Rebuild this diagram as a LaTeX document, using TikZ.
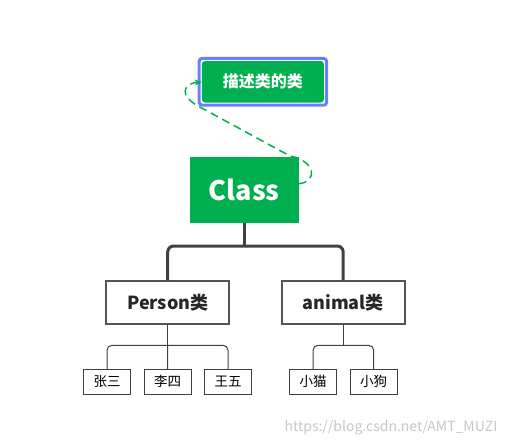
\documentclass[tikz,border=0pt]{standalone}
\usepackage{fontspec}
\setmainfont{Noto Sans CJK SC}
\usetikzlibrary{fit,arrows.meta}
\definecolor{boxgreen}{RGB}{0,176,80}
\definecolor{selblue}{RGB}{104,128,255}
\definecolor{linegray}{RGB}{64,64,64}
\begin{document}
\begin{tikzpicture}[x=1pt,y=-1pt]

\tikzstyle{greenbox} = [fill=boxgreen,text=white,font=\bfseries,inner sep=0];
\tikzstyle{selframe} = [draw=selblue,line width=3pt,rounded corners=3pt,inner sep=2.5pt];
\tikzstyle{midbox} = [draw=linegray!90,line width=2pt,minimum width=123pt,minimum height=43pt,font=\fontsize{18}{20}\selectfont\bfseries,text=black!85];
\tikzstyle{leafbox} = [draw=linegray,line width=1pt,minimum width=47pt,minimum height=25pt,font=\fontsize{13.5}{15}\selectfont,inner sep=0];
\tikzstyle{trunk} = [draw=linegray,line width=3pt,rounded corners=6pt];
\tikzstyle{twig} = [draw=linegray,line width=1pt,rounded corners=5pt];
\tikzstyle{note} = [boxgreen,line width=1.5pt,dash pattern=on 8pt off 5pt,-{Stealth[length=7pt,width=6pt]}];

\useasboundingbox (0,0) rectangle (510,446);

\node[greenbox,rounded corners=3pt,minimum width=122pt,minimum height=41.5pt,font=\fontsize{16}{18}\selectfont\bfseries] (desc) at (262.9,81.8) {描述类的类};
\node[selframe,fit=(desc)] (sel) {};
\node[greenbox,minimum width=108.5pt,minimum height=66pt,font=\fontsize{27}{30}\selectfont\bfseries] (cls) at (244.3,189.7) {Class};

\node[midbox] (person) at (167.7,302.5) {Person类};
\node[midbox] (animal) at (343.2,302.5) {animal类};

\node[leafbox] (zs) at (107,381.8) {张三};
\node[leafbox] (ls) at (167.5,381.8) {李四};
\node[leafbox] (ww) at (228,381.8) {王五};
\node[leafbox] (xm) at (313,381.8) {小猫};
\node[leafbox] (xg) at (373.7,381.8) {小狗};

% tree connectors
\coordinate (j1) at (244.3,246);
\coordinate (j2) at (167.7,345.3);
\coordinate (j3) at (343.2,345.3);
\draw[trunk] (cls.south) -- (j1);
\draw[trunk] (person.north) |- (j1) -| (animal.north);
\draw[twig] (person.south) -- (j2);
\draw[twig] (zs.north) |- (j2) -| (ww.north);
\draw[twig] (j2) -- (ls.north);
\draw[twig] (animal.south) -- (j3);
\draw[twig] (xm.north) |- (j3) -| (xg.north);

% note link
\draw[note] ([yshift=6pt]cls.east) .. controls (318,182) and (316,161) .. (290,156) -- (198,106) .. controls (180,96) and (182,84) .. (desc.west);

\node[text=black!22,font=\fontsize{14}{16}\selectfont,anchor=east] (mark) at (501,428) {https://blog.csdn.net/AMT\_MUZI};
\end{tikzpicture}
\end{document}
